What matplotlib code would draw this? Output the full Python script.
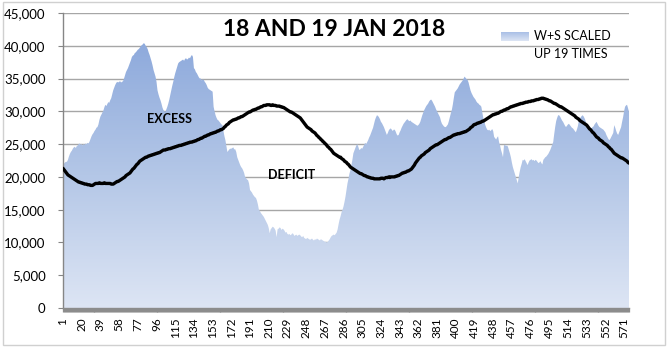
import numpy as np
import matplotlib
matplotlib.use("Agg")
import matplotlib.pyplot as plt
from matplotlib.colors import LinearSegmentedColormap
from matplotlib.patches import Rectangle

plt.rcParams['font.family'] = ['Lato', 'DejaVu Sans']

# Wind + solar output (scaled up 19x), in hundreds of MW, one value per 5-minute interval
ws_scaled_hundreds = [
    221, 220, 222, 223, 223, 226, 231, 235, 238, 240, 243, 245, 246, 244, 247, 248, 250, 251, 249, 250, 248, 250, 249, 251,
    250, 252, 251, 254, 258, 262, 265, 267, 270, 272, 275, 276, 280, 287, 292, 295, 298, 301, 306, 310, 308, 311, 314, 313,
    317, 320, 326, 332, 336, 340, 343, 345, 344, 345, 346, 344, 345, 346, 350, 355, 360, 363, 366, 370, 374, 378, 383, 385,
    386, 389, 390, 392, 394, 395, 397, 399, 401, 402, 404, 403, 400, 398, 395, 390, 386, 381, 376, 370, 363, 358, 353, 345,
    332, 326, 321, 317, 312, 306, 302, 300, 299, 303, 307, 312, 318, 325, 332, 339, 345, 352, 358, 363, 368, 373, 375, 376,
    377, 378, 379, 377, 380, 381, 379, 380, 382, 381, 384, 386, 383, 366, 364, 360, 358, 355, 352, 350, 350, 347, 349, 348,
    345, 343, 340, 336, 334, 333, 332, 331, 330, 307, 300, 294, 290, 287, 286, 284, 282, 280, 279, 270, 262, 256, 247, 238,
    240, 242, 243, 243, 244, 245, 242, 242, 238, 230, 226, 222, 218, 215, 213, 210, 206, 200, 198, 196, 195, 190, 180, 178,
    176, 173, 171, 169, 168, 164, 158, 150, 148, 145, 143, 141, 139, 136, 133, 130, 127, 122, 114, 120, 122, 124, 123, 121,
    118, 108, 120, 121, 123, 122, 119, 121, 120, 118, 115, 116, 113, 112, 113, 111, 112, 114, 113, 110, 111, 112, 110, 111,
    112, 111, 109, 108, 110, 107, 106, 105, 107, 106, 105, 104, 105, 106, 104, 103, 105, 104, 106, 105, 104, 103, 105, 104,
    103, 102, 101, 101, 100, 101, 103, 105, 108, 110, 111, 112, 111, 113, 115, 120, 128, 135, 140, 146, 150, 155, 162, 170,
    180, 190, 197, 205, 210, 218, 226, 236, 240, 244, 248, 250, 246, 241, 242, 244, 243, 246, 249, 252, 250, 253, 256, 260,
    263, 267, 271, 275, 281, 287, 291, 294, 293, 291, 288, 284, 282, 279, 276, 272, 268, 264, 267, 271, 273, 274, 272, 270,
    272, 272, 269, 265, 263, 264, 268, 271, 275, 278, 281, 283, 285, 287, 288, 286, 285, 286, 284, 283, 282, 281, 280, 279,
    278, 279, 281, 284, 289, 294, 298, 302, 305, 308, 310, 312, 315, 317, 318, 316, 313, 310, 307, 303, 300, 297, 294, 291,
    285, 281, 279, 277, 276, 276, 278, 280, 285, 291, 297, 302, 310, 320, 329, 331, 333, 335, 338, 341, 343, 345, 347, 350,
    353, 351, 349, 348, 344, 338, 332, 328, 325, 322, 320, 318, 315, 313, 312, 310, 309, 307, 298, 290, 285, 279, 275, 272,
    271, 272, 270, 271, 273, 270, 261, 259, 257, 260, 262, 253, 248, 241, 236, 230, 248, 249, 247, 248, 246, 241, 236, 230,
    222, 215, 210, 205, 200, 195, 190, 200, 208, 215, 220, 226, 225, 227, 224, 221, 218, 222, 225, 226, 227, 225, 226, 224,
    226, 225, 223, 221, 222, 224, 221, 219, 226, 228, 230, 231, 233, 235, 238, 241, 245, 249, 253, 265, 276, 285, 290, 294,
    294, 292, 289, 286, 284, 281, 278, 276, 278, 280, 281, 279, 277, 275, 274, 272, 270, 268, 272, 277, 285, 288, 291, 293,
    294, 292, 289, 285, 281, 278, 275, 273, 272, 274, 276, 277, 280, 282, 284, 281, 278, 276, 275, 274, 273, 272, 270, 268,
    264, 261, 258, 256, 258, 261, 264, 267, 279, 275, 270, 266, 264, 268, 272, 276, 284, 291, 300, 307, 309, 310, 305, 299,
]

# Operational demand, in hundreds of MW
demand_hundreds = [
    213, 211, 209, 207, 205, 203, 202, 201, 200, 199, 198, 197, 196, 195, 194, 193, 192, 192, 191, 191, 190, 190, 189, 189,
    189, 188, 188, 188, 187, 187, 187, 188, 189, 190, 190, 190, 190, 191, 190, 190, 190, 190, 191, 190, 190, 190, 190, 190,
    190, 189, 189, 189, 190, 191, 192, 193, 193, 194, 195, 196, 197, 198, 199, 200, 202, 203, 204, 205, 206, 208, 210, 212,
    213, 215, 217, 219, 220, 222, 224, 225, 226, 227, 228, 229, 230, 230, 231, 232, 232, 233, 233, 234, 234, 235, 235, 236,
    236, 237, 237, 238, 239, 240, 241, 241, 241, 242, 242, 243, 243, 243, 244, 244, 245, 245, 246, 246, 247, 247, 248, 248,
    248, 249, 249, 250, 250, 251, 251, 252, 252, 253, 253, 253, 254, 254, 255, 255, 256, 257, 257, 258, 259, 259, 260, 261,
    262, 262, 263, 264, 264, 265, 266, 266, 267, 267, 268, 268, 269, 270, 270, 271, 272, 272, 273, 274, 276, 277, 279, 280,
    281, 283, 284, 285, 286, 287, 287, 288, 288, 289, 290, 290, 291, 292, 292, 293, 294, 295, 296, 297, 298, 299, 299, 300,
    301, 302, 302, 303, 303, 304, 305, 305, 306, 307, 307, 308, 309, 309, 309, 310, 310, 310, 310, 309, 309, 310, 309, 309,
    309, 308, 308, 308, 308, 307, 307, 306, 306, 305, 304, 303, 302, 301, 300, 299, 299, 298, 297, 296, 295, 294, 293, 292,
    291, 290, 288, 286, 284, 282, 280, 278, 276, 275, 274, 273, 272, 270, 269, 268, 267, 265, 263, 262, 260, 259, 257, 256,
    254, 253, 251, 250, 248, 246, 245, 243, 242, 240, 238, 236, 235, 234, 233, 232, 231, 230, 230, 228, 227, 226, 224, 223,
    222, 220, 219, 217, 215, 214, 213, 212, 211, 210, 209, 208, 207, 206, 205, 205, 204, 203, 202, 202, 201, 200, 200, 199,
    199, 198, 198, 198, 197, 197, 197, 197, 197, 197, 197, 198, 198, 198, 197, 198, 199, 199, 199, 200, 199, 200, 200, 200,
    200, 200, 201, 201, 202, 202, 203, 204, 205, 206, 206, 207, 207, 208, 209, 209, 210, 211, 212, 214, 216, 218, 221, 223,
    225, 227, 229, 230, 232, 233, 234, 235, 237, 238, 239, 240, 241, 243, 244, 245, 246, 247, 248, 249, 249, 250, 251, 252,
    253, 254, 255, 256, 257, 257, 258, 259, 260, 260, 261, 262, 263, 264, 264, 265, 265, 266, 266, 266, 267, 267, 268, 268,
    269, 269, 270, 271, 272, 273, 275, 276, 277, 279, 280, 280, 281, 282, 282, 283, 283, 284, 285, 285, 286, 287, 288, 289,
    290, 291, 292, 293, 294, 295, 295, 296, 296, 297, 297, 298, 299, 300, 300, 301, 302, 302, 303, 304, 304, 305, 306, 307,
    307, 308, 308, 309, 309, 310, 310, 311, 311, 312, 312, 312, 313, 313, 314, 314, 314, 315, 315, 315, 316, 316, 316, 317,
    317, 318, 318, 318, 319, 319, 320, 320, 320, 319, 319, 318, 318, 317, 316, 316, 315, 314, 313, 312, 312, 311, 310, 309,
    308, 307, 307, 306, 305, 304, 303, 302, 301, 300, 299, 298, 297, 296, 295, 294, 293, 291, 290, 289, 288, 286, 285, 284,
    283, 282, 281, 280, 279, 277, 275, 273, 272, 270, 268, 267, 265, 263, 261, 260, 259, 257, 256, 255, 254, 252, 251, 250,
    249, 248, 246, 245, 243, 242, 240, 238, 236, 235, 234, 233, 232, 231, 230, 229, 229, 228, 227, 226, 225, 224, 222, 221,
]

title_text = "18 AND 19 JAN 2018"
legend_lines = ["W+S SCALED", "UP 19 TIMES"]
y_ticks = [0, 5000, 10000, 15000, 20000, 25000, 30000, 35000, 40000, 45000]
label_step = 19

ws = np.array(ws_scaled_hundreds, dtype=float) * 100
demand = np.array(demand_hundreds, dtype=float) * 100
x = np.arange(1, len(ws) + 1)

W, H = 671, 350
fig = plt.figure(figsize=(W / 100, H / 100), dpi=100)
fig.patch.set_facecolor('white')

def fx(px):
    return px / W

def fy(py):
    return (H - py) / H

ax = fig.add_axes([fx(63), fy(308), fx(629) - fx(63), fy(13) - fy(308)])
ax.set_facecolor('white')

grid_c = '#a6a6a6'
for v in y_ticks[1:]:
    ax.axhline(v, color=grid_c, lw=1.0, zorder=0)

# Gradient area fill clipped to the series outline
fill = ax.fill_between(x, 0, ws, facecolor='none', edgecolor='none', zorder=1)
cmap = LinearSegmentedColormap.from_list('ws', ['#dde5f4', '#b4c7e7', '#8eaadc'])
grad = np.linspace(0, 1, 256).reshape(-1, 1)
im = ax.imshow(grad, extent=[x[0], x[-1], 0, ws.max()], origin='lower',
               cmap=cmap, aspect='auto', zorder=1, interpolation='bilinear')
im.set_clip_path(fill.get_paths()[0], transform=ax.transData)

ax.plot(x, demand, color='black', lw=2.4, zorder=3, solid_capstyle='round')

ax.set_xlim(1, len(ws))
ax.set_ylim(0, 45000)

ax.set_yticks(y_ticks)
ax.set_yticklabels([f"{v:,}" for v in y_ticks])
ax.tick_params(axis='y', direction='out', length=3.5, width=0.8, color='#868686',
               labelsize=9.5, pad=9, labelcolor='#000000')

label_pos = list(range(1, len(ws) + 1, label_step))
ax.set_xticks(label_pos)
ax.set_xticklabels([str(p) for p in label_pos], rotation=90)
ax.set_xticks(x, minor=True)
ax.tick_params(axis='x', which='both', direction='out', length=3, width=0.9,
               color='#8c8c8c', labelsize=8.5, pad=4)

for s in ['top', 'right']:
    ax.spines[s].set_visible(False)
ax.spines['left'].set_color('#868686')
ax.spines['left'].set_linewidth(1.0)
ax.spines['bottom'].set_color('#8c8c8c')
ax.spines['bottom'].set_linewidth(1.0)

fig.text(fx(334), fy(29), title_text, ha='center', va='center',
         fontsize=16.5, fontweight='bold', color='black')
fig.text(fx(170), fy(119), "EXCESS", ha='center', va='center',
         fontsize=9, fontweight='bold', color='black')
fig.text(fx(292), fy(175), "DEFICIT", ha='center', va='center',
         fontsize=9, fontweight='bold', color='black')

# Legend swatch and text
sw = fig.add_axes([fx(501), fy(41), fx(529) - fx(501), fy(32) - fy(41)])
sw.imshow(np.linspace(0, 1, 64).reshape(-1, 1), cmap=LinearSegmentedColormap.from_list('sw', ['#dde5f4', '#a9bfe6']),
          aspect='auto', origin='lower', extent=[0, 1, 0, 1])
sw.axis('off')
fig.text(fx(534), fy(36.5), legend_lines[0], ha='left', va='center', fontsize=9, color='black')
fig.text(fx(534), fy(54.5), legend_lines[1], ha='left', va='center', fontsize=9, color='black')

fig.patches.append(Rectangle((fx(3), fy(345)), fx(665) - fx(3), fy(2) - fy(345),
                             transform=fig.transFigure, fill=False, edgecolor='#d0d0d0', lw=1.0))

fig.savefig('out.png', dpi=100)
